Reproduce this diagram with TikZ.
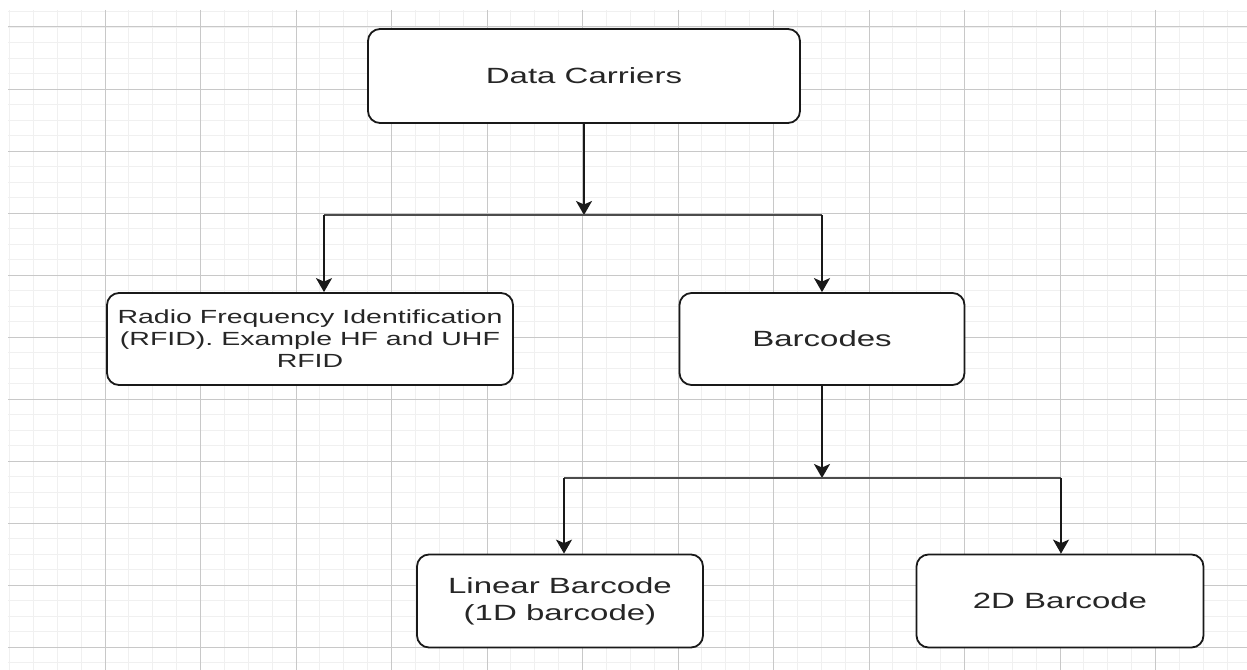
\documentclass[tikz,border=0pt]{standalone}
\usepackage{fontspec}
\setmainfont{Liberation Sans}[FakeStretch=1.5]
\usepackage{tikz}
\usetikzlibrary{arrows.meta}
\usetikzlibrary{positioning}
\definecolor{gridmajor}{RGB}{200,200,200}
\definecolor{gridminor}{RGB}{240,240,240}
\tikzstyle{box} = [rectangle, rounded corners=12pt, draw=black!90, line width=1.8pt, fill=white, text=black!85, align=center, font=\fontsize{22}{27}\selectfont]
\tikzstyle{arrow} = [line width=1.9pt, black!90, -{Stealth[length=14pt,width=16pt,inset=3.5pt]}]
\tikzstyle{bar} = [line width=1.4pt, black!70]

\begin{document}
\begin{tikzpicture}[x=1pt, y=-1pt]
	\useasboundingbox (0,0) rectangle (1247,669);

	% Grid
	\begin{scope}
		\clip (8,10) rectangle (1247,669);
		\foreach \i in {0,...,52} \draw[gridminor, line width=0.8pt] ({9.5+23.875*\i},10) -- ++(0,660);
		\foreach \i in {0,...,42} \draw[gridminor, line width=0.8pt] (8,{11.5+15.5*\i}) -- ++(1240,0);
		\foreach \i in {0,...,11} \draw[gridmajor, line width=1pt] ({105+95.5*\i},10) -- ++(0,660);
		\foreach \i in {0,...,10} \draw[gridmajor, line width=1pt] (8,{27+62*\i}) -- ++(1240,0);
	\end{scope}

	% Boxes
	\node[box, minimum width=432pt, minimum height=94pt] (DC) at (584,76) {Data Carriers};
	\node[box, minimum width=406pt, minimum height=92pt, font=\fontsize{19}{22}\selectfont] (RF) at (310,339)
		{Radio Frequency Identification\\(RFID). Example HF and UHF\\RFID};
	\node[box, minimum width=285pt, minimum height=92pt] (BC) at (822,339) {Barcodes};
	\node[box, minimum width=286pt, minimum height=93pt] (LB) at (560,601) {Linear Barcode\\(1D barcode)};
	\node[box, minimum width=287pt, minimum height=93pt] (TD) at (1060,601) {2D Barcode};

	% Upper split
	\coordinate (up) at (584,215);
	\coordinate (upL) at (324,215);
	\coordinate (upR) at (822,215);
	\draw[arrow] (DC) -- (up);
	\draw[bar] (upL) -- (upR);
	\draw[arrow] (upL) -- (upL |- RF.north);
	\draw[arrow] (upR) -- (BC);

	% Lower split
	\coordinate (lo) at (822,478);
	\coordinate (loL) at (564,478);
	\coordinate (loR) at (1061,478);
	\draw[arrow] (BC) -- (lo);
	\draw[bar] (loL) -- (loR);
	\draw[arrow] (loL) -- (loL |- LB.north);
	\draw[arrow] (loR) -- (loR |- TD.north);
\end{tikzpicture}
\end{document}
